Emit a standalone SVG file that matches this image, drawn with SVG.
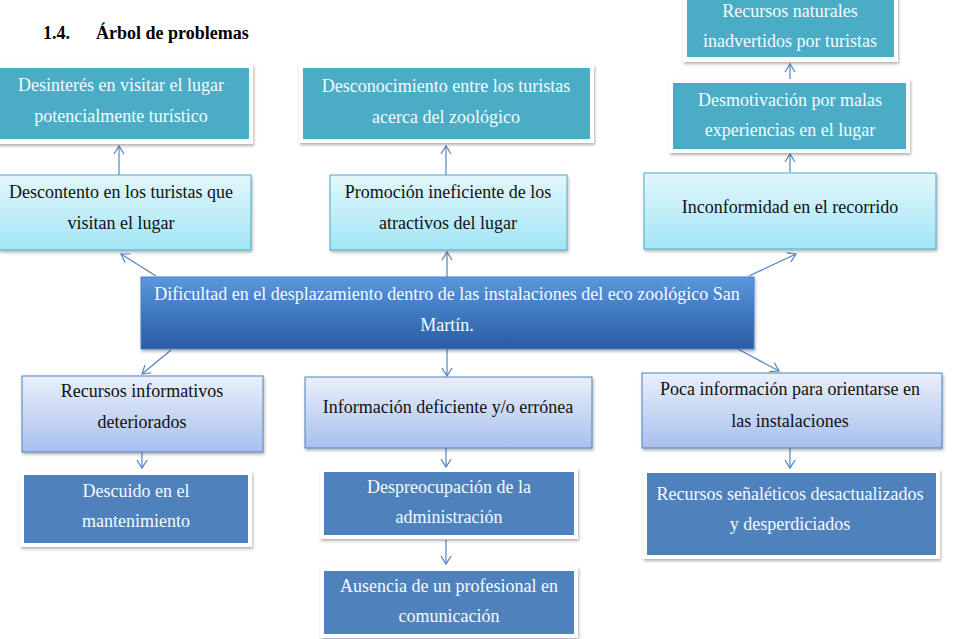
<svg xmlns="http://www.w3.org/2000/svg" width="955" height="639" viewBox="0 0 955 639">
<defs>
<style>
text{font-family:"Liberation Serif","Times New Roman",serif;font-size:18px;text-anchor:middle}
.w{fill:#f4fbfd}
.k{fill:#111}
.t{font-weight:bold;font-size:18px;text-anchor:start;fill:#000}
.frame{fill:#fff;filter:url(#sh)}
.teal{fill:#4bacc6}
.dark{fill:#4f81bd}
.cy{fill:url(#gc);stroke:#4bacc6;stroke-width:1;filter:url(#sh)}
.lb{fill:url(#gb);stroke:#4f81bd;stroke-width:1;filter:url(#sh)}
.main{fill:url(#gm);stroke:#4a7fc8;stroke-width:1;filter:url(#sh)}
.con line{stroke:#5583c0;stroke-width:1.2;fill:none;marker-end:url(#ah)}
</style>
<filter id="sh" x="-10%" y="-20%" width="120%" height="150%">
<feDropShadow dx="1" dy="2" stdDeviation="1.5" flood-color="#000" flood-opacity="0.3"/>
</filter>
<linearGradient id="gc" x1="0" y1="0" x2="0" y2="1">
<stop offset="0" stop-color="#e2f7fc"/>
<stop offset="1" stop-color="#a2e5f5"/>
</linearGradient>
<linearGradient id="gb" x1="0" y1="0" x2="0" y2="1">
<stop offset="0" stop-color="#eaeffa"/>
<stop offset="1" stop-color="#a8c0ee"/>
</linearGradient>
<linearGradient id="gm" x1="0" y1="0" x2="0" y2="1">
<stop offset="0" stop-color="#5c97dd"/>
<stop offset="0.5" stop-color="#3f78c2"/>
<stop offset="1" stop-color="#2b5ca0"/>
</linearGradient>
<marker id="ah" markerUnits="userSpaceOnUse" markerWidth="20" markerHeight="20" viewBox="-10 -10 20 20" refX="0" refY="0" orient="auto">
<path d="M-8,-5 L0,0 L-8,5" fill="none" stroke="#5583c0" stroke-width="1.2"/>
</marker>
</defs>
<rect width="955" height="639" fill="#fff"/>
<text class="t" x="43" y="39">1.4.</text>
<text class="t" x="96" y="39">Árbol de problemas</text>

<g class="con">
<line x1="119" y1="175" x2="119" y2="146"/>
<line x1="446" y1="175" x2="446" y2="146"/>
<line x1="790" y1="82" x2="790" y2="64"/>
<line x1="790" y1="172" x2="790" y2="154"/>
<line x1="156" y1="276" x2="121" y2="254"/>
<line x1="447" y1="277" x2="447" y2="252"/>
<line x1="749" y1="276" x2="796" y2="254"/>
<line x1="171" y1="350" x2="142" y2="374"/>
<line x1="447" y1="349" x2="447" y2="376"/>
<line x1="738" y1="349" x2="779" y2="371"/>
<line x1="142" y1="452" x2="142" y2="468"/>
<line x1="446" y1="448" x2="446" y2="467"/>
<line x1="446" y1="540" x2="446" y2="564"/>
<line x1="790" y1="448" x2="790" y2="468"/>
</g>

<g id="n-desinteres">
<rect class="frame" x="-4" y="64" width="257" height="80"/>
<rect class="teal" x="0" y="68" width="249" height="71"/>
<text class="w" x="121" y="91">Desinterés en visitar el lugar</text>
<text class="w" x="121" y="122">potencialmente turístico</text>
</g>
<g id="n-desconocimiento">
<rect class="frame" x="299" y="64" width="295" height="79"/>
<rect class="teal" x="303" y="68" width="287" height="71"/>
<text class="w" x="446" y="92">Desconocimiento entre los turistas</text>
<text class="w" x="446" y="123">acerca del zoológico</text>
</g>
<g id="n-recursos-naturales">
<rect class="frame" x="683" y="-10" width="215" height="72"/>
<rect class="teal" x="687" y="-5" width="207" height="62"/>
<text class="w" x="790" y="17">Recursos naturales</text>
<text class="w" x="790" y="47">inadvertidos por turistas</text>
</g>
<g id="n-desmotivacion">
<rect class="frame" x="669" y="79" width="241" height="74"/>
<rect class="teal" x="673" y="83" width="233" height="66"/>
<text class="w" x="790" y="106">Desmotivación por malas</text>
<text class="w" x="790" y="136">experiencias en el lugar</text>
</g>
<g id="n-descontento">
<rect class="cy" x="-1" y="175" width="252" height="75"/>
<text class="k" x="121" y="198">Descontento en los turistas que</text>
<text class="k" x="121" y="229">visitan el lugar</text>
</g>
<g id="n-promocion">
<rect class="cy" x="330" y="175" width="237" height="75"/>
<text class="k" x="448" y="198">Promoción ineficiente de los</text>
<text class="k" x="448" y="229">atractivos del lugar</text>
</g>
<g id="n-inconformidad">
<rect class="cy" x="644" y="173" width="292" height="76"/>
<text class="k" x="790" y="213">Inconformidad en el recorrido</text>
</g>
<g id="n-main">
<rect class="main" x="141" y="277" width="613" height="72"/>
<text class="w" x="447" y="300">Dificultad en el desplazamiento dentro de las instalaciones del eco zoológico San</text>
<text class="w" x="447" y="331">Martín.</text>
</g>
<g id="n-recursos-informativos">
<rect class="lb" x="22" y="376" width="241" height="76"/>
<text class="k" x="142" y="397">Recursos informativos</text>
<text class="k" x="142" y="428">deteriorados</text>
</g>
<g id="n-informacion">
<rect class="lb" x="305" y="377" width="287" height="71"/>
<text class="k" x="448" y="413">Información deficiente y/o errónea</text>
</g>
<g id="n-poca">
<rect class="lb" x="642" y="373" width="300" height="75"/>
<text class="k" x="790" y="395">Poca información para orientarse en</text>
<text class="k" x="790" y="427">las instalaciones</text>
</g>
<g id="n-descuido">
<rect class="frame" x="20" y="471" width="232" height="76"/>
<rect class="dark" x="24" y="475" width="224" height="68"/>
<text class="w" x="136" y="497">Descuido en el</text>
<text class="w" x="136" y="527">mantenimiento</text>
</g>
<g id="n-despreocupacion">
<rect class="frame" x="320" y="468" width="258" height="71"/>
<rect class="dark" x="324" y="472" width="250" height="63"/>
<text class="w" x="449" y="493">Despreocupación de la</text>
<text class="w" x="449" y="523">administración</text>
</g>
<g id="n-ausencia">
<rect class="frame" x="320" y="567" width="258" height="71"/>
<rect class="dark" x="324" y="571" width="250" height="63"/>
<text class="w" x="449" y="592">Ausencia de un profesional en</text>
<text class="w" x="449" y="622">comunicación</text>
</g>
<g id="n-senaleticos">
<rect class="frame" x="643" y="469" width="297" height="90"/>
<rect class="dark" x="647" y="473" width="289" height="82"/>
<text class="w" x="790" y="500">Recursos señaléticos desactualizados</text>
<text class="w" x="790" y="530">y desperdiciados</text>
</g>
</svg>
